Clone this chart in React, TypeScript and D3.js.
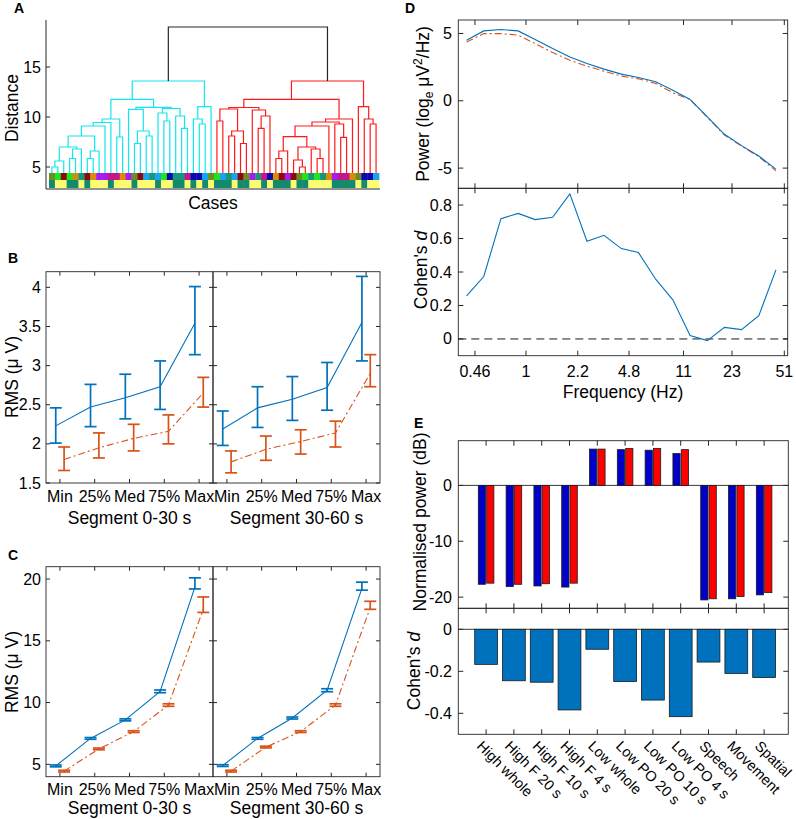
import React, { useEffect, useRef } from "react";
import * as d3 from "d3";

const W = 796;
const H = 819;
const FONT = "'Liberation Sans', Arial, Helvetica, sans-serif";
const AXC = "#262626";
const BLUE = "#0072BD";
const ORANGE = "#D95319";
const CYAN = "#12e6ee";
const RED = "#ff1a1a";
const LAB = 17.5;

// ---------- A: dendrogram, node = [height, left, right], leaves = case index
const cyanTree: any = [13.6,
  [11.77,
    [9.8, [9.45, [9.1, [8.1, [7.0, [5.6, [5.0, 0, 1], 2], [6.8, [5.85, 3, 4], 5]], [6.6, [5.85, 6, 7], 8]], 9], 10], [8.0, 11, 12]],
    [10.97, [10.77, 13, [8.6, [7.35, 14, 15], [8.1, 16, 17]]], [10.85, [10.4, 18, [9.6, 19, 20]], [10.1, 21, [8.87, 22, 23]]]]],
  [11.03, [9.8, 24, [9.3, 25, 26]], 27]];
const redTree: any = [13.6,
  [11.77,
    [10.95, [10.8, [9.6, 28, 29], [8.6, [8.1, 30, 31], [7.35, 32, 33]]], [10.7, 34, [10.1, [8.87, 35, 36], 37]]],
    [9.8, [9.5, [9.1, [8.03, [6.6, [5.85, 38, 39], 40], [7.0, [5.7, 41, [5.0, 42, 43]], [6.8, 44, [5.85, 45, 46]]]], 47], [9.3, 48, [7.97, 49, 50]]], 51]],
  [11.03, 52, [9.8, 53, [9.3, 54, 55]]]];
const rootHeight = 19.0;
const leafBase = 4.4;
const caseColors = "OGDGRTDRPPMMRPODLTLGBTTMBBLO" + "GLTLDOPTMBRDPDOGTGTRPMMROBBL";
const caseGroups = "TYYTTYTYYYTYYYTYYYTYYTTYTYTY" + "TTTYTTYYTYTTTYTTYYYYTTTTYTYY";
const PAL: Record<string, string> = {
  O: "#6b8e23", G: "#1ee61e", D: "#8b0a0a", R: "#d88c0a", T: "#17967a",
  P: "#a81cf0", M: "#c41689", L: "#1aa3f0", B: "#0a0ab0",
};
const GPAL: Record<string, string> = { T: "#138a6c", Y: "#fcfc70" };

// ---------- B / C: RMS percentiles
const segCats = ["Min", "25%", "Med", "75%", "Max"];
const bSeg1Blue = { mean: [2.23, 2.47, 2.59, 2.73, 3.54], lo: [2.01, 2.22, 2.32, 2.44, 3.14], hi: [2.46, 2.76, 2.89, 3.06, 4.01] };
const bSeg1Orange = { mean: [1.8, 1.95, 2.07, 2.16, 2.65], lo: [1.66, 1.82, 1.91, 2.0, 2.47], hi: [1.96, 2.14, 2.25, 2.37, 2.85] };
const bSeg2Blue = { mean: [2.19, 2.46, 2.57, 2.72, 3.55], lo: [1.98, 2.21, 2.3, 2.43, 3.06], hi: [2.42, 2.73, 2.86, 3.04, 4.14] };
const bSeg2Orange = { mean: [1.77, 1.93, 2.03, 2.14, 2.9], lo: [1.63, 1.79, 1.87, 1.96, 2.73], hi: [1.91, 2.1, 2.18, 2.29, 3.14] };
const cSeg1Blue = { mean: [4.87, 7.1, 8.6, 10.9, 19.35], lo: [4.8, 7.03, 8.52, 10.8, 19.2], hi: [4.95, 7.17, 8.68, 11.02, 20.1] };
const cSeg1Orange = { mean: [4.45, 6.25, 7.65, 9.8, 17.55], lo: [4.38, 6.18, 7.58, 9.7, 17.3], hi: [4.52, 6.32, 7.72, 9.9, 18.55] };
const cSeg2Blue = { mean: [4.9, 7.1, 8.75, 11.0, 19.25], lo: [4.83, 7.03, 8.67, 10.88, 19.1], hi: [4.97, 7.17, 8.83, 11.12, 19.75] };
const cSeg2Orange = { mean: [4.45, 6.4, 7.65, 9.8, 17.7], lo: [4.38, 6.33, 7.58, 9.7, 17.55], hi: [4.52, 6.47, 7.72, 9.9, 18.2] };
const bTicks = [1.5, 2, 2.5, 3, 3.5, 4];
const cTicks = [5, 10, 15, 20];

// ---------- D: spectra
const freqTicks = [0.46, 1, 2.2, 4.8, 11, 23, 51];
const dFreq = [0.405, 0.526, 0.683, 0.888, 1.15, 1.5, 1.95, 2.53, 3.28, 4.27, 5.54, 7.2, 9.35, 12.15, 15.8, 20.5, 26.6, 34.6, 44.9];
const powerBlue = [4.5, 5.19, 5.29, 5.19, 4.55, 3.88, 3.26, 2.77, 2.35, 1.98, 1.73, 1.41, 0.79, 0.1, -1.19, -2.49, -3.33, -4.1, -5.08];
const powerOrange = [4.37, 4.99, 4.99, 4.87, 4.25, 3.58, 3.01, 2.57, 2.2, 1.83, 1.63, 1.29, 0.59, 0.1, -1.23, -2.54, -3.36, -4.15, -5.21];
const cohenD = [0.258, 0.373, 0.719, 0.75, 0.713, 0.727, 0.867, 0.584, 0.619, 0.54, 0.516, 0.357, 0.234, 0.02, -0.01, 0.069, 0.056, 0.139, 0.413];

// ---------- E: normalised power per condition
const eCats = ["High whole", "High F 20 s", "High F 10 s", "High F 4 s", "Low whole", "Low PO 20 s", "Low PO 10 s", "Low PO 4 s", "Speech", "Movement", "Spatial"];
const eBlue = [-17.7, -18.1, -18.0, -18.2, 6.5, 6.4, 6.3, 5.7, -20.5, -20.3, -19.6];
const eRed = [-17.5, -17.7, -17.6, -17.5, 6.5, 6.6, 6.6, 6.4, -20.3, -19.9, -19.2];
const eCohen = [-0.167, -0.245, -0.252, -0.384, -0.095, -0.249, -0.337, -0.416, -0.156, -0.21, -0.23];

const text = (g: any, x: number, y: number, s: string, size = 16, anchor = "middle") =>
  g.append("text").attr("x", x).attr("y", y).attr("text-anchor", anchor)
    .attr("font-size", size).attr("fill", "#000").text(s);

const ylabel = (g: any, x: number, y: number) =>
  g.append("text").attr("transform", `translate(${x},${y}) rotate(-90)`)
    .attr("text-anchor", "middle").attr("dy", "0.35em").attr("font-size", LAB).attr("fill", "#000");

const panelLetter = (g: any, x: number, y: number, s: string) =>
  g.append("text").attr("x", x).attr("y", y).attr("font-size", 14).attr("font-weight", "bold").attr("fill", "#000").text(s);

const boxAxes = (g: any, x0: number, x1: number, y0: number, y1: number, xt: number[], yt: number[], tl = 4) => {
  g.append("rect").attr("x", x0).attr("y", y0).attr("width", x1 - x0).attr("height", y1 - y0)
    .attr("fill", "none").attr("stroke", AXC).attr("stroke-width", 0.9);
  xt.forEach((x) => {
    g.append("line").attr("x1", x).attr("x2", x).attr("y1", y1).attr("y2", y1 - tl).attr("stroke", AXC);
    g.append("line").attr("x1", x).attr("x2", x).attr("y1", y0).attr("y2", y0 + tl).attr("stroke", AXC);
  });
  yt.forEach((y) => {
    g.append("line").attr("x1", x0).attr("x2", x0 + tl).attr("y1", y).attr("y2", y).attr("stroke", AXC);
    g.append("line").attr("x1", x1).attr("x2", x1 - tl).attr("y1", y).attr("y2", y).attr("stroke", AXC);
  });
};

const cohenLabel = (g: any, x: number, y: number) => {
  const t = ylabel(g, x, y);
  t.append("tspan").text("Cohen's ");
  t.append("tspan").attr("font-style", "italic").text("d");
};

function drawA(g: any) {
  const xA = d3.scaleLinear().domain([-0.5, 55.5]).range([49, 379]);
  const yA = d3.scaleLinear().domain([2.8, 19.7]).range([189, 20]);
  const segs: { pts: [number, number][]; color: string }[] = [];
  const walk = (n: any, color: string): { x: number; h: number } => {
    if (typeof n === "number") return { x: xA(n), h: leafBase };
    const a = walk(n[1], color);
    const b = walk(n[2], color);
    segs.push({ pts: [[a.x, a.h], [a.x, n[0]], [b.x, n[0]], [b.x, b.h]], color });
    return { x: (a.x + b.x) / 2, h: n[0] };
  };
  const c = walk(cyanTree, CYAN);
  const r = walk(redTree, RED);
  segs.push({ pts: [[c.x, c.h], [c.x, rootHeight], [r.x, rootHeight], [r.x, r.h]], color: AXC });
  const line = d3.line<[number, number]>().x((p) => p[0]).y((p) => yA(p[1]));

  const cw = xA(1) - xA(0);
  g.selectAll("rect.case").data(caseColors.split("")).join("rect")
    .attr("x", (_: any, i: number) => xA(i - 0.5)).attr("width", cw + 0.4)
    .attr("y", yA(leafBase)).attr("height", yA(3.7) - yA(leafBase)).attr("fill", (d: string) => PAL[d]);
  g.selectAll("rect.grp").data(caseGroups.split("")).join("rect")
    .attr("x", (_: any, i: number) => xA(i - 0.5)).attr("width", cw + 0.4)
    .attr("y", yA(3.7)).attr("height", yA(2.9) - yA(3.7)).attr("fill", (d: string) => GPAL[d]);

  g.selectAll("path.link").data(segs).join("path")
    .attr("d", (s: any) => line(s.pts)).attr("fill", "none")
    .attr("stroke", (s: any) => s.color).attr("stroke-width", 1.2);

  g.append("line").attr("x1", 46).attr("x2", 46).attr("y1", 20).attr("y2", 189).attr("stroke", AXC);
  g.append("line").attr("x1", 46).attr("x2", 380).attr("y1", 189).attr("y2", 189).attr("stroke", AXC);
  [5, 10, 15].forEach((v) => {
    g.append("line").attr("x1", 46).attr("x2", 50).attr("y1", yA(v)).attr("y2", yA(v)).attr("stroke", AXC);
    text(g, 41, yA(v) + 5.5, String(v), 16, "end");
  });
  ylabel(g, 12, 108).text("Distance");
  text(g, 213, 209, "Cases", LAB);
  panelLetter(g, 14, 13, "A");
}

function drawErr(g: any, x0: number, x1: number, y: any, yTicks: number[], sets: any[], showY: boolean, segLabel: string, labY: number, segY: number) {
  const x = d3.scaleLinear().domain([0.6, 5.4]).range([x0, x1]);
  const [yb, yt] = y.range();
  boxAxes(g, x0, x1, yt, yb, segCats.map((_, i) => x(i + 1)), yTicks.map((v) => y(v)));
  const line = d3.line<[number, number]>();
  sets.forEach((s) => {
    const xs = segCats.map((_, i) => x(i + 1 + s.off));
    g.append("path").attr("d", line(xs.map((xx, i) => [xx, y(s.d.mean[i])] as [number, number])))
      .attr("fill", "none").attr("stroke", s.color).attr("stroke-width", 1.1)
      .attr("stroke-dasharray", s.dash);
    xs.forEach((xx, i) => {
      const lo = y(s.d.lo[i]);
      const hi = y(s.d.hi[i]);
      const eb = g.append("g").attr("stroke", s.color).attr("stroke-width", 1.7);
      eb.append("line").attr("x1", xx).attr("x2", xx).attr("y1", lo).attr("y2", hi);
      eb.append("line").attr("x1", xx - 6).attr("x2", xx + 6).attr("y1", lo).attr("y2", lo);
      eb.append("line").attr("x1", xx - 6).attr("x2", xx + 6).attr("y1", hi).attr("y2", hi);
    });
  });
  segCats.forEach((c, i) => text(g, x(i + 1), labY, c));
  text(g, (x0 + x1) / 2, segY, segLabel, LAB);
  if (showY) yTicks.forEach((v) => text(g, 41, y(v) + 5.5, String(v), 16, "end"));
}

function drawBC(g: any) {
  const yB = d3.scaleLinear().domain([1.5, 4.2]).range([483, 271.7]);
  const yC = d3.scaleLinear().domain([4, 21]).range([776.7, 566.7]);
  const mk = (b: any, o: any) => [
    { d: b, color: BLUE, dash: null, off: -0.12 },
    { d: o, color: ORANGE, dash: "7,3,2,3", off: 0.12 },
  ];
  drawErr(g, 46, 213, yB, bTicks, mk(bSeg1Blue, bSeg1Orange), true, "Segment 0-30 s", 502, 524);
  drawErr(g, 213, 380, yB, bTicks, mk(bSeg2Blue, bSeg2Orange), false, "Segment 30-60 s", 502, 524);
  ylabel(g, 12, 377).text("RMS (\u03bc V)");
  panelLetter(g, 8, 263, "B");
  drawErr(g, 46, 213, yC, cTicks, mk(cSeg1Blue, cSeg1Orange), true, "Segment 0-30 s", 795, 814);
  drawErr(g, 213, 380, yC, cTicks, mk(cSeg2Blue, cSeg2Orange), false, "Segment 30-60 s", 795, 814);
  ylabel(g, 12, 672).text("RMS (\u03bc V)");
  panelLetter(g, 8, 560, "C");
}

function drawD(g: any) {
  const x0 = 458.3, x1 = 787.7;
  const xD = d3.scaleLog().domain([0.357, 53.7]).range([x0, x1]);
  const yP = d3.scaleLinear().domain([-6.5, 6]).range([188.3, 20]);
  const yD = d3.scaleLinear().domain([-0.1, 0.9]).range([355.7, 188.3]);
  const xt = freqTicks.map((f) => xD(f));
  boxAxes(g, x0, x1, 20, 188.3, xt, [-5, 0, 5].map((v) => yP(v)), 5);
  boxAxes(g, x0, x1, 188.3, 355.7, xt, [0, 0.2, 0.4, 0.6, 0.8].map((v) => yD(v)), 5);

  const lp = d3.line<number>().x((_, i) => xD(dFreq[i]));
  g.append("path").attr("d", lp.y((v) => yP(v))(powerOrange)).attr("fill", "none")
    .attr("stroke", ORANGE).attr("stroke-width", 1.1).attr("stroke-dasharray", "7,3,2,3");
  g.append("path").attr("d", lp.y((v) => yP(v))(powerBlue)).attr("fill", "none")
    .attr("stroke", BLUE).attr("stroke-width", 1.1);
  g.append("line").attr("x1", x0).attr("x2", x1).attr("y1", yD(0)).attr("y2", yD(0))
    .attr("stroke", "#000").attr("stroke-width", 0.9).attr("stroke-dasharray", "8,5");
  g.append("path").attr("d", lp.y((v) => yD(v))(cohenD)).attr("fill", "none")
    .attr("stroke", BLUE).attr("stroke-width", 1.1);

  [-5, 0, 5].forEach((v) => text(g, 452, yP(v) + 5.5, String(v), 16, "end"));
  [0, 0.2, 0.4, 0.6, 0.8].forEach((v) => text(g, 452, yD(v) + 5.5, String(v), 16, "end"));
  freqTicks.forEach((f) => text(g, xD(f), 377, String(f)));
  text(g, (x0 + x1) / 2, 398, "Frequency (Hz)", LAB);

  const pl = ylabel(g, 423, 104);
  pl.append("tspan").text("Power (log");
  pl.append("tspan").attr("font-size", 12).attr("dy", 4).text("e");
  pl.append("tspan").attr("dy", -4).text("  \u03bcV");
  pl.append("tspan").attr("font-size", 12).attr("dy", -7).text("2");
  pl.append("tspan").attr("dy", 7).text("/Hz)");

  cohenLabel(g, 421, 270);
  panelLetter(g, 405, 13, "D");
}

function drawE(g: any) {
  const x0 = 458.3, x1 = 788.3;
  const xE = d3.scaleLinear().domain([0, 11.87]).range([x0, x1]);
  const y1 = d3.scaleLinear().domain([-22, 8]).range([608.3, 440.7]);
  const y2 = d3.scaleLinear().domain([-0.5, 0.1]).range([734.3, 608.3]);
  const xt = eCats.map((_, i) => xE(i + 1));
  boxAxes(g, x0, x1, 440.7, 608.3, xt, [-20, -10, 0].map((v) => y1(v)), 5);
  boxAxes(g, x0, x1, 608.3, 734.3, xt, [-0.4, -0.2, 0].map((v) => y2(v)), 5);

  g.append("line").attr("x1", x0).attr("x2", x1).attr("y1", y1(0)).attr("y2", y1(0)).attr("stroke", AXC).attr("stroke-width", 0.9);
  g.append("line").attr("x1", x0).attr("x2", x1).attr("y1", y2(0)).attr("y2", y2(0)).attr("stroke", AXC).attr("stroke-width", 0.9);

  const bar = (vals: number[], y: any, a: number, b: number, fill: string) =>
    g.append("g").selectAll("rect").data(vals).join("rect")
      .attr("x", (_: number, i: number) => xE(i + 1 + a))
      .attr("width", xE(b) - xE(a))
      .attr("y", (v: number) => Math.min(y(v), y(0)))
      .attr("height", (v: number) => Math.abs(y(v) - y(0)))
      .attr("fill", fill).attr("stroke", "#1a1a1a").attr("stroke-width", 0.8);
  bar(eBlue, y1, -0.28, -0.02, "#0000c8");
  bar(eRed, y1, 0.02, 0.28, "#ff0000");
  bar(eCohen, y2, -0.41, 0.41, BLUE);

  [-20, -10, 0].forEach((v) => text(g, 452, y1(v) + 5.5, String(v), 16, "end"));
  [-0.4, -0.2, 0].forEach((v) => text(g, 452, y2(v) + 5.5, String(v), 16, "end"));
  eCats.forEach((c, i) => {
    g.append("text").attr("transform", `translate(${xE(i + 1) - 10},747) rotate(45)`)
      .attr("font-size", 14.5).attr("fill", "#000").text(c);
  });
  ylabel(g, 420, 522).text("Normalised power (dB)");
  cohenLabel(g, 414, 671);
  panelLetter(g, 414, 428, "E");
}

export default function App() {
  const ref = useRef<SVGSVGElement>(null);
  useEffect(() => {
    document.body.style.margin = "0";
    const svg = d3.select(ref.current);
    svg.selectAll("*").remove();
    svg.append("rect").attr("width", W).attr("height", H).attr("fill", "#fff");
    const g = svg.append("g").attr("font-family", FONT);
    drawA(g);
    drawBC(g);
    drawD(g);
    drawE(g);
  }, []);
  return <svg ref={ref} width={W} height={H} style={{ display: "block" }} />;
}
